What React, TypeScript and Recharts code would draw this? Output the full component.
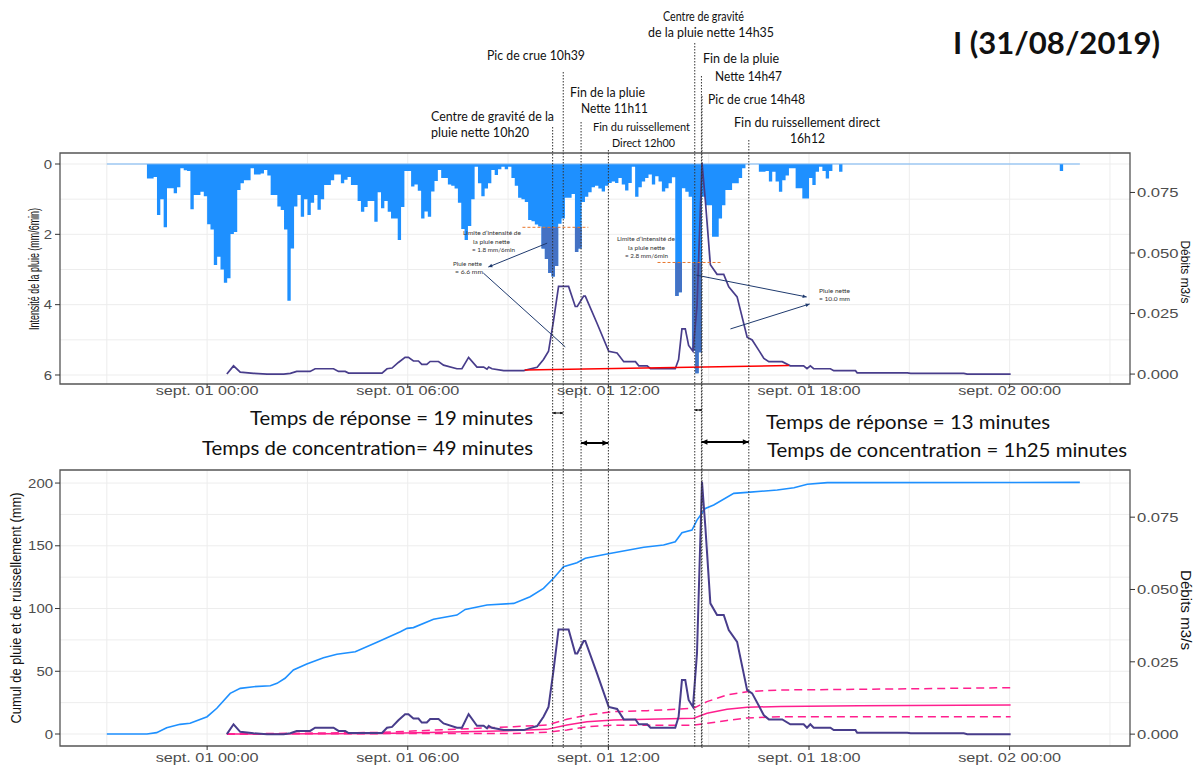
import React from "react";
import {
  ComposedChart,
  Area,
  Line,
  XAxis,
  YAxis,
  CartesianGrid,
  ReferenceLine,
  ReferenceArea,
} from "recharts";

// time is in hours from 01/09 00:00
const hourTicks = [0, 6, 12, 18, 24];
const hourTickLabels = ["sept. 01 00:00", "sept. 01 06:00", "sept. 01 12:00", "sept. 01 18:00", "sept. 02 00:00"];
const hourGrid = [-3, 0, 3, 6, 9, 12, 15, 18, 21, 24, 27];
const X_DOMAIN: [number, number] = [-4.4, 27.6];

// rain intensity (mm/6min), one value per 6 minute step from 31/08 22:12
const rainStartHour = -1.8;
const rainStepHour = 0.1;
const rainIntensity = [
  0.41, 0.41, 0.37, 1.45, 1.0, 1.8, 0.69, 0.69, 0.83, 0.66,
  0.12, 0.18, 0.2, 1.29, 0.88, 0.88, 0.79, 0.92, 1.71, 1.86,
  2.87, 2.64, 3.0, 3.38, 3.25, 1.99, 1.93, 0.74, 0.55, 0.46,
  0.46, 0.12, 0.3, 0.3, 0.27, 0.17, 0.33, 0.88, 0.88, 1.21,
  1.31, 1.86, 3.89, 2.4, 1.21, 0.88, 1.5, 1.0, 1.45, 1.1,
  0.88, 1.3, 1.0, 0.6, 0.6, 0.46, 0.3, 0.3, 0.55, 0.45,
  0.37, 0.6, 0.6, 1.05, 1.36, 1.22, 1.05, 1.05, 1.64, 0.8,
  1.26, 1.05, 1.36, 1.55, 1.55, 2.16, 1.22, 0.2, 0.2, 0.64,
  0.58, 0.76, 1.55, 1.35, 1.5, 0.78, 0.48, 0.17, 0.4, 0.4,
  0.58, 0.62, 0.7, 1.1, 1.85, 2.16, 1.76, 1.0, 0.08, 0.55,
  0.92, 0.7, 0.55, 0.17, 0.31, 0.15, 0.08, 0.15, 0.08, 0.4,
  0.62, 0.96, 1.0, 1.08, 1.59, 1.63, 1.72, 1.78, 2.4, 2.7,
  3.1, 3.2, 2.9, 1.7, 1.55, 0.96, 0.96, 0.85, 2.5, 2.4,
  1.08, 0.93, 0.8, 0.66, 0.62, 0.7, 0.78, 0.62, 0.54, 0.5,
  0.54, 0.4, 0.58, 0.75, 0.54, 0.08, 0.93, 0.66, 0.5, 0.4,
  0.3, 0.58, 0.35, 0.5, 0.78, 0.69, 0.55, 0.38, 3.75, 3.65,
  0.69, 0.79, 0.93, 5.3, 5.95, 5.35, 0.93, 1.17, 1.17, 2.07,
  2.07, 1.55, 1.17, 0.74, 0.74, 0.55, 0.55, 0.4, 0.12, 0,
  0, 0, 0, 0.22, 0.22, 0.2, 0.5, 0.22, 0.5, 0.79,
  0.46, 0.33, 0.12, 0.12, 0.69, 0.69, 0.98, 0.98, 0.4, 0.6,
  0.22, 0.08, 0.2, 0.41, 0.2, 0, 0, 0.22, 0,
];
const lateRainHours = [19.1, 25.5, 25.6, 26.1];
const lateRainValues = [0, 0.2, 0, 0];
const rainRecordHours = [-3.0, 26.1];

// net rain = what falls above the intensity limit
const netRainStart = [10.0, 14.0];
const netRainEnd = [11.2, 14.8];
const netRainLimit = [1.8, 2.8];
const limitLineFrom = [9.43, 13.47];
const limitLineTo = [11.4, 15.41];

// discharge (m3/s)
const flowHours = [
  0.59, 0.79, 0.99, 1.39, 1.79, 2.29, 2.49, 2.68, 3.08, 3.23,
  3.78, 3.93, 4.13, 4.23, 5.23, 5.38, 5.53, 5.72, 5.92, 6.02,
  6.17, 6.32, 6.42, 6.57, 6.67, 6.92, 7.07, 7.47, 7.62, 7.82,
  8.07, 8.27, 8.37, 8.42, 8.52, 8.87, 9.47, 9.62, 9.87, 10.06,
  10.21, 10.36, 10.51, 10.81, 11.01, 11.07, 11.26, 11.31, 11.66, 12.01,
  12.26, 12.46, 12.81, 12.91, 13.16, 13.26, 14.0, 14.1, 14.2, 14.3,
  14.4, 14.53, 14.65, 14.8, 14.9, 15.05, 15.25, 15.45, 15.6, 15.85,
  16.15, 16.3, 16.5, 16.65, 16.8, 17.2, 17.44, 17.84, 17.94, 18.04,
  18.14, 18.64, 18.74, 19.39, 19.44, 20.94, 21.04, 22.63, 22.73, 24.03,
];
const flowValues = [
  0, 0.0034, 0.0008, 0.0003, 0, 0, 0.0003, 0.0011, 0.0011, 0.0022,
  0.0022, 0.0011, 0.0011, 0.0004, 0.0004, 0.0022, 0.0025, 0.0048, 0.0069, 0.0069,
  0.0054, 0.0054, 0.004, 0.004, 0.0052, 0.0052, 0.0037, 0.0022, 0.0022, 0.0069,
  0.0029, 0.0029, 0.002, 0.0029, 0.0022, 0.0014, 0.0014, 0.002, 0.0028, 0.006,
  0.0094, 0.0221, 0.0362, 0.0362, 0.0279, 0.0279, 0.0322, 0.0322, 0.021, 0.0094,
  0.0087, 0.0051, 0.0051, 0.0034, 0.0034, 0.0022, 0.0022, 0.006, 0.0187, 0.0187,
  0.0118, 0.0094, 0.0279, 0.0872, 0.0717, 0.0452, 0.0412, 0.0412, 0.036, 0.0319,
  0.0152, 0.0141, 0.0098, 0.0065, 0.0051, 0.0051, 0.0034, 0.0034, 0.0022, 0.0034,
  0.0022, 0.0022, 0.0014, 0.0014, 0.0005, 0.0005, 0.0003, 0.0003, 0, 0,
];
const baseflowHours = [9.5, 17.4];
const baseflowValues = [0.0017, 0.0035];

// cumulative rain (mm)
const cumRainHours = [
  -3.0, -1.8, -1.51, -1.21, -0.81, -0.51, 0, 0.29, 0.69, 0.99,
  1.39, 1.89, 2.09, 2.33, 2.58, 2.98, 3.48, 3.88, 4.43, 5.08,
  5.78, 5.98, 6.17, 6.77, 7.47, 7.72, 8.37, 9.17, 9.66, 10.06,
  10.36, 10.66, 11.06, 11.31, 11.96, 13.06, 13.65, 14.0, 14.2, 14.5,
  14.65, 14.9, 15.15, 15.75, 16.15, 17.05, 17.55, 17.95, 18.55, 26.1,
];
const cumRainValues = [
  0, 0, 1.1, 5.0, 7.7, 8.6, 13.8, 20.5, 32.4, 36.4,
  37.7, 38.5, 40.4, 44.4, 51, 55.8, 60.8, 63.5, 65.6, 73.1,
  81.5, 84.2, 84.8, 91.4, 94.8, 99.3, 102.8, 104.1, 109.4, 116.1,
  124.1, 133.3, 136.5, 140, 143.4, 148.8, 150.6, 153.2, 160.4, 162.5,
  170.5, 179.8, 182.5, 191.8, 192.6, 194.4, 196.3, 199, 200.3, 200.5,
];

// cumulative runoff (mm) with its upper / lower bounds
const runoffHours = [0.59, 5.2, 9.17, 10.16, 10.76, 11.36, 12.16, 13.16, 14.55, 14.95, 15.55, 16.15, 17.15, 19.5, 24.03];
const runoffMid = [0, 0.5, 2.7, 3.7, 7.2, 9.8, 11.2, 11.7, 12.5, 16.5, 19.7, 21.3, 22.0, 22.5, 23.1];
const runoffHigh = [0, 1.3, 5.8, 7.2, 11.7, 15.1, 17.8, 18.6, 20.5, 25.8, 31.1, 33.7, 35.1, 35.6, 36.9];
const runoffLow = [0, 0.3, 0.5, 1.3, 3.2, 5.8, 7.0, 7.0, 7.0, 8.5, 10.8, 12.8, 13.7, 13.8, 13.8];

// hydrograph events: centroid, peak, end of net rain, end of direct runoff...
const eventHours = [10 + 20 / 60, 10 + 39 / 60, 11 + 11 / 60, 12, 14 + 35 / 60, 14 + 47 / 60, 14 + 48 / 60, 16 + 12 / 60];
const eventLineTop = [127, 72, 122, 150, 43, 76, 96, 140];

const rainSteps = [
  ...rainIntensity.map((v, k) => ({ t: rainStartHour + k * rainStepHour, v })),
  ...lateRainHours.map((t, i) => ({ t, v: lateRainValues[i] })),
];
const rainZero = rainRecordHours.map((t) => ({ t, v: 0 }));
const flowData = flowHours.map((t, i) => ({ t, q: flowValues[i] }));
const baseflowData = baseflowHours.map((t, i) => ({ t, q: baseflowValues[i] }));
const cumRainData = cumRainHours.map((t, i) => ({ t, p: cumRainValues[i] }));
const runoffData = runoffHours.map((t, i) => ({ t, mid: runoffMid[i], hi: runoffHigh[i], lo: runoffLow[i] }));

const netRain = netRainStart.map((start, i) => {
  const lim = netRainLimit[i];
  const steps = rainSteps.filter((s) => s.t > start - 1e-6 && s.t < netRainEnd[i] - 1e-6);
  const pts = steps.map((s) => ({ t: s.t, r: [lim, Math.max(s.v, lim)] }));
  pts.push({ t: netRainEnd[i], r: [lim, lim] });
  const total = steps.reduce((a, s) => a + Math.max(s.v - lim, 0), 0);
  return { pts, total, lim };
});

const hm = (h: number) => {
  const m = Math.round(h * 60);
  return `${Math.floor(m / 60)}h${String(m % 60).padStart(2, "0")}`;
};
const dur = (a: number, b: number) => {
  const m = Math.round((eventHours[b] - eventHours[a]) * 60);
  return m >= 60 ? hm(m / 60) : String(m);
};

const AXIS_FONT = "'Liberation Sans', Arial, sans-serif";
const NOTE_FONT = "Lato, 'Open Sans', sans-serif";
const FLOW = "#483D8B";
const RAIN = "#1E90FF";
const NET = "#4472C4";
const PINK = "#FF1F8E";
const LEADER = "#1F3A6E";

function arrowShape(both: boolean, color: string, width: number, size: number) {
  return (p: any) => {
    const { x1, y1, x2, y2 } = p;
    const a = Math.atan2(y2 - y1, x2 - x1);
    const head = (x: number, y: number, ang: number) => {
      const bx = x - size * Math.cos(ang);
      const by = y - size * Math.sin(ang);
      const w = size * 0.45;
      return `M${x},${y}L${bx - w * Math.sin(ang)},${by + w * Math.cos(ang)}L${bx + w * Math.sin(ang)},${by - w * Math.cos(ang)}Z`;
    };
    return (
      <g>
        <line x1={x1} y1={y1} x2={x2} y2={y2} stroke={color} strokeWidth={width} />
        <path d={head(x2, y2, a)} fill={color} />
        {both && <path d={head(x1, y1, a + Math.PI)} fill={color} />}
      </g>
    );
  };
}

function timeTick(dy: number, size: number) {
  return (p: any) => {
    const i = hourTicks.indexOf(p.payload.value);
    return (
      <text x={p.x} y={p.y} dy={dy} textAnchor="middle" fontSize={size} fill="#4D4D4D"
        fontFamily={AXIS_FONT} textLength={103} lengthAdjust="spacingAndGlyphs">
        {hourTickLabels[i]}
      </text>
    );
  };
}

function valueTick(anchor: "start" | "end", size: number, sx: number, fmt: (v: number) => string) {
  return (p: any) => (
    <g transform={`translate(${p.x},${p.y}) scale(${sx},1)`}>
      <text x={0} y={0} dy={size * 0.36} textAnchor={anchor} fontSize={size} fill="#4D4D4D" fontFamily={AXIS_FONT}>
        {fmt(p.payload.value)}
      </text>
    </g>
  );
}

const leaders = [
  { from: [10.17, 2.25], to: [8.41, 2.93], head: true },
  { from: [8.26, 3.1], to: [10.71, 5.2], head: false },
  { from: [14.63, 3.16], to: [17.93, 3.78], head: true },
  { from: [15.65, 4.69], to: [18.02, 3.98], head: true },
];

const TOP_Y: [number, number] = [-0.313, 6.256];
const Q_DOMAIN: [number, number] = [-0.0041, 0.0913];
const BOT_Y: [number, number] = [-9.56, 210.4];

function RainChart() {
  return (
    <ComposedChart width={1198} height={460} margin={{ top: 153, right: 13, bottom: 56, left: 20 }}>
      <CartesianGrid verticalValues={hourGrid} horizontalValues={[0, 1, 2, 3, 4, 5, 6]} stroke="#EDEDED" strokeWidth={1} />
      <XAxis type="number" dataKey="t" domain={X_DOMAIN} allowDataOverflow ticks={hourTicks} interval={0}
        height={20} tickSize={4} tickMargin={2} axisLine={false} tickLine={{ stroke: "#333" }} tick={timeTick(5, 12)} />
      <YAxis type="number" domain={TOP_Y} allowDataOverflow reversed ticks={[0, 2, 4, 6]} interval={0}
        width={40} tickSize={5} tickMargin={3} axisLine={false} tickLine={{ stroke: "#333" }}
        tick={valueTick("end", 13, 1.15, (v) => String(v))} />
      <YAxis yAxisId="q" orientation="right" type="number" domain={Q_DOMAIN} allowDataOverflow
        ticks={[0, 0.025, 0.05, 0.075]} interval={0} width={55} tickSize={5} tickMargin={2}
        axisLine={false} tickLine={{ stroke: "#333" }} tick={valueTick("start", 13, 1.28, (v) => v.toFixed(3))} />

      <Area data={rainSteps} dataKey="v" type="stepAfter" baseValue={0} fill={RAIN} fillOpacity={1}
        stroke="none" isAnimationActive={false} />
      <Line data={rainZero} dataKey="v" stroke="#74B4F4" strokeWidth={1.2} dot={false} isAnimationActive={false} />
      <Line data={flowData} dataKey="q" yAxisId="q" stroke={FLOW} strokeWidth={1.7} dot={false} isAnimationActive={false} />
      <Line data={baseflowData} dataKey="q" yAxisId="q" stroke="#FF0000" strokeWidth={1.5} dot={false} isAnimationActive={false} />
      {netRain.map((n, i) => (
        <Area key={`net${i}`} data={n.pts} dataKey="r" type="stepAfter" fill={NET} fillOpacity={1}
          stroke="none" isAnimationActive={false} />
      ))}
      {netRainLimit.map((lim, i) => (
        <ReferenceLine key={`lim${i}`} segment={[{ x: limitLineFrom[i], y: lim }, { x: limitLineTo[i], y: lim }]}
          stroke="#E8762C" strokeWidth={1} strokeDasharray="3 2" ifOverflow="visible" />
      ))}
      {leaders.map((l, i) => (
        <ReferenceLine key={`ld${i}`} segment={[{ x: l.from[0], y: l.from[1] }, { x: l.to[0], y: l.to[1] }]}
          stroke={LEADER} strokeWidth={1} ifOverflow="visible"
          shape={l.head ? arrowShape(false, LEADER, 1, 4) : undefined} />
      ))}
      <ReferenceArea x1={X_DOMAIN[0]} x2={X_DOMAIN[1]} y1={TOP_Y[0]} y2={TOP_Y[1]} fill="none" fillOpacity={0}
        stroke="#555" strokeWidth={1.3} ifOverflow="visible" />
    </ComposedChart>
  );
}

function CumulChart() {
  return (
    <ComposedChart width={1198} height={305} margin={{ top: 10, right: 13, bottom: 0, left: 20 }}>
      <CartesianGrid verticalValues={hourGrid} horizontalValues={[0, 25, 50, 75, 100, 125, 150, 175, 200]}
        stroke="#EDEDED" strokeWidth={1} />
      <XAxis type="number" dataKey="t" domain={X_DOMAIN} allowDataOverflow ticks={hourTicks} interval={0}
        height={19} tickSize={4} tickMargin={2} axisLine={false} tickLine={{ stroke: "#333" }} tick={timeTick(10, 13)} />
      <YAxis type="number" domain={BOT_Y} allowDataOverflow ticks={[0, 50, 100, 150, 200]} interval={0}
        width={40} tickSize={5} tickMargin={2} axisLine={false} tickLine={{ stroke: "#333" }}
        tick={valueTick("end", 13, 1.15, (v) => String(v))} />
      <YAxis yAxisId="q" orientation="right" type="number" domain={Q_DOMAIN} allowDataOverflow
        ticks={[0, 0.025, 0.05, 0.075]} interval={0} width={55} tickSize={5} tickMargin={2}
        axisLine={false} tickLine={{ stroke: "#333" }} tick={valueTick("start", 13, 1.28, (v) => v.toFixed(3))} />

      <Line data={cumRainData} dataKey="p" stroke={RAIN} strokeWidth={1.6} dot={false} isAnimationActive={false} />
      <Line data={runoffData} dataKey="hi" stroke={PINK} strokeWidth={1.5} strokeDasharray="8 5" dot={false} isAnimationActive={false} />
      <Line data={runoffData} dataKey="lo" stroke={PINK} strokeWidth={1.5} strokeDasharray="8 5" dot={false} isAnimationActive={false} />
      <Line data={runoffData} dataKey="mid" stroke={PINK} strokeWidth={1.5} dot={false} isAnimationActive={false} />
      <Line data={flowData} dataKey="q" yAxisId="q" stroke={FLOW} strokeWidth={2} dot={false} isAnimationActive={false} />
      <ReferenceArea x1={X_DOMAIN[0]} x2={X_DOMAIN[1]} y1={BOT_Y[0]} y2={BOT_Y[1]} fill="none" fillOpacity={0}
        stroke="#555" strokeWidth={1.3} ifOverflow="visible" />
    </ComposedChart>
  );
}

// event markers span both panels, so they sit on a page-high layer sharing the time scale
const gapArrows = [
  { a: 0, b: 1, y: 413, w: 1, s: 3 },
  { a: 2, b: 3, y: 443, w: 2, s: 6 },
  { a: 4, b: 6, y: 410, w: 1, s: 2.5 },
  { a: 5, b: 7, y: 442, w: 2, s: 6 },
];

function EventLayer() {
  return (
    <ComposedChart width={1198} height={765} margin={{ top: 0, right: 68, bottom: 0, left: 60 }}>
      <XAxis type="number" dataKey="t" domain={X_DOMAIN} allowDataOverflow hide />
      <YAxis type="number" domain={[0, 765]} allowDataOverflow reversed hide />
      {eventHours.map((t, i) => (
        <ReferenceLine key={`ev${i}`} segment={[{ x: t, y: eventLineTop[i] }, { x: t, y: 748 }]}
          stroke="#333" strokeWidth={1} strokeDasharray="1.5 1.5" ifOverflow="visible" />
      ))}
      {gapArrows.map((g, i) => (
        <ReferenceLine key={`ga${i}`} segment={[{ x: eventHours[g.a], y: g.y }, { x: eventHours[g.b], y: g.y }]}
          stroke="#000" ifOverflow="visible" shape={arrowShape(true, "#000", g.w, g.s)} />
      ))}
    </ComposedChart>
  );
}

type Note = { text: string; x: number; y: number; len: number; size?: number; weight?: number; fill?: string };

const notes: Note[] = [
  { text: "Centre de gravité", x: 663, y: 21, len: 81 },
  { text: `de la pluie nette ${hm(eventHours[4])}`, x: 648, y: 37, len: 126 },
  { text: `Pic de crue ${hm(eventHours[1])}`, x: 487, y: 60, len: 98 },
  { text: "Fin de la pluie", x: 703, y: 63, len: 76 },
  { text: `Nette ${hm(eventHours[5])}`, x: 715, y: 81, len: 67 },
  { text: `Pic de crue ${hm(eventHours[6])}`, x: 708, y: 104, len: 97 },
  { text: "Fin de la pluie", x: 570, y: 97, len: 75 },
  { text: `Nette ${hm(eventHours[2])}`, x: 581, y: 113, len: 67 },
  { text: "Centre de gravité de la", x: 431, y: 121, len: 123 },
  { text: `pluie nette ${hm(eventHours[0])}`, x: 431, y: 137, len: 98 },
  { text: "Fin du ruissellement", x: 593, y: 131, len: 97, size: 12 },
  { text: `Direct ${hm(eventHours[3])}`, x: 612, y: 147, len: 63, size: 12 },
  { text: "Fin du ruissellement direct", x: 734, y: 127, len: 146 },
  { text: hm(eventHours[7]), x: 790, y: 143, len: 35 },
  { text: "I (31/08/2019)", x: 953, y: 54, len: 207, size: 30, weight: 700 },
  { text: `Temps de réponse = ${dur(0, 1)} minutes`, x: 250, y: 425, len: 283, size: 20 },
  { text: `Temps de concentration= ${dur(2, 3)} minutes`, x: 202, y: 455, len: 331, size: 20 },
  { text: `Temps de réponse = ${dur(4, 6)} minutes`, x: 766, y: 429, len: 284, size: 20 },
  { text: `Temps de concentration = ${dur(5, 7)} minutes`, x: 767, y: 457, len: 360, size: 20 },
  // small labels inside the hyetograph
  { text: "Limite d’intensité de", x: 463, y: 235, len: 58, size: 6.5, fill: "#333" },
  { text: "la pluie nette", x: 473, y: 244, len: 37, size: 6.5, fill: "#333" },
  { text: `= ${netRain[0].lim.toFixed(1)} mm/6min`, x: 472, y: 252, len: 43, size: 6.5, fill: "#333" },
  { text: "Pluie nette", x: 453, y: 266, len: 29, size: 6.5, fill: "#333" },
  { text: `= ${netRain[0].total.toFixed(1)} mm`, x: 455, y: 274, len: 28, size: 6.5, fill: "#333" },
  { text: "Limite d’intensité de", x: 617, y: 241, len: 58, size: 6.5, fill: "#333" },
  { text: "la pluie nette", x: 628, y: 250, len: 37, size: 6.5, fill: "#333" },
  { text: `= ${netRain[1].lim.toFixed(1)} mm/6min`, x: 625, y: 258, len: 43, size: 6.5, fill: "#333" },
  { text: "Pluie nette", x: 819, y: 293, len: 31, size: 6.5, fill: "#333" },
  { text: `= ${netRain[1].total.toFixed(1)} mm`, x: 819, y: 301, len: 31, size: 6.5, fill: "#333" },
];

const axisTitles = [
  { text: "Intensité de la pluie (mm/6min)", x: 39, y: 269, rot: -90, len: 122, size: 14 },
  { text: "Débits m3/s", x: 1181, y: 272, rot: 90, len: 63, size: 13 },
  { text: "Cumul de pluie et de ruissellement (mm)", x: 21, y: 608, rot: -90, len: 231, size: 14 },
  { text: "Débits m3/s", x: 1181, y: 610, rot: 90, len: 80, size: 14 },
];

function TextLayer() {
  return (
    <svg width={1198} height={765} style={{ position: "absolute", left: 0, top: 0 }}>
      {axisTitles.map((a, i) => (
        <text key={`ax${i}`} transform={`translate(${a.x},${a.y}) rotate(${a.rot})`} textAnchor="middle"
          fontSize={a.size} fontFamily={AXIS_FONT} fill="#111" textLength={a.len} lengthAdjust="spacingAndGlyphs">
          {a.text}
        </text>
      ))}
      {notes.map((n, i) => (
        <text key={`n${i}`} x={n.x} y={n.y} fontSize={n.size ?? 13} fontWeight={n.weight ?? 400}
          fontFamily={NOTE_FONT} fill={n.fill ?? "#111"} textLength={n.len} lengthAdjust="spacingAndGlyphs">
          {n.text}
        </text>
      ))}
    </svg>
  );
}

export default function App() {
  return (
    <div style={{ position: "absolute", left: 0, top: 0, width: 1198, height: 765, background: "#fff", overflow: "hidden" }}>
      <div style={{ position: "absolute", left: 0, top: 0 }}>
        <RainChart />
      </div>
      <div style={{ position: "absolute", left: 0, top: 460 }}>
        <CumulChart />
      </div>
      <div style={{ position: "absolute", left: 0, top: 0, pointerEvents: "none" }}>
        <EventLayer />
      </div>
      <TextLayer />
    </div>
  );
}
